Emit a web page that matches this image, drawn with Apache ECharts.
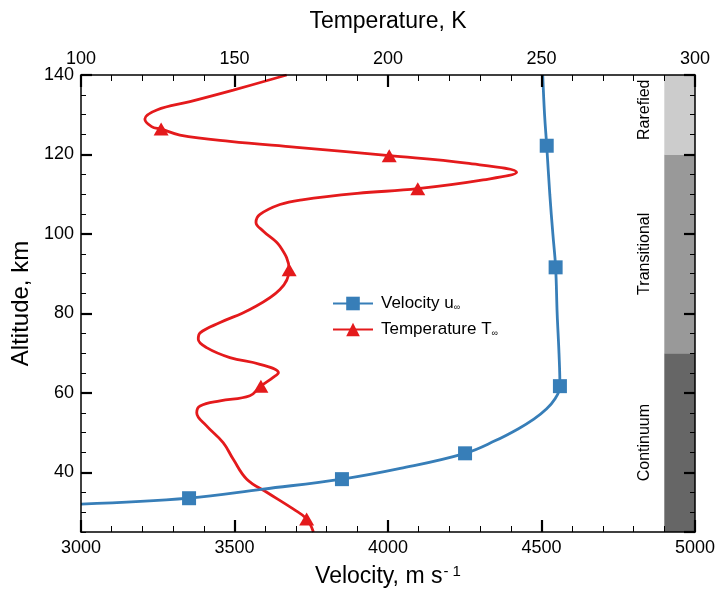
<!DOCTYPE html>
<html><head><meta charset="utf-8">
<script src="https://cdn.jsdelivr.net/npm/echarts@6/dist/echarts.min.js"></script>
<style>html,body{margin:0;padding:0;background:#fff}#c{width:725px;height:591px}</style>
</head><body><div id="c"></div>
<script>
// ---- data ----
const velocityAltitude = [32.0, 33.5, 35.8, 38.3, 41.0, 44.8, 48.0, 51.0, 53.4, 55.9, 58.4, 61.7, 70, 80, 91.6, 100, 110, 122.2, 130, 140];
const velocityValue    = [3000, 3352, 3593, 3850, 4040, 4251, 4350, 4425, 4475, 4515, 4543, 4560, 4557, 4551, 4546, 4537, 4527, 4517, 4510, 4504];
const velocityMarked   = [0, 1, 0, 1, 0, 1, 0, 0, 0, 0, 0, 1, 0, 0, 1, 0, 0, 1, 0, 0];

const temperatureAltitude = [140, 136.2, 133.3, 131.2, 128.9, 127.0, 126.4, 124.9, 123.3, 121.8, 119.7, 117.8, 115.5, 113.6, 111.4, 110.2, 108.6, 107.4, 104.9, 102.9, 100.7, 96.9, 91.0, 86.0, 81.0, 77.7, 75.1, 73.5, 71.4, 68.9, 67.2, 65.1, 63.9, 61.7, 59.3, 58.0, 56.7, 55.0, 51.7, 47.5, 43.3, 38.3, 35.0, 30.8, 28.3, 25];
const temperatureValue    = [167.0, 149.6, 135.5, 124.7, 120.8, 123.0, 126.1, 132.2, 148.5, 170.3, 200.4, 225.6, 241.9, 231.0, 209.7, 190.0, 172.0, 164.8, 158.3, 157.0, 159.4, 164.8, 167.8, 164.8, 155.0, 145.3, 138.8, 138.2, 140.9, 148.5, 158.3, 164.3, 162.6, 158.6, 155.0, 145.3, 138.8, 137.7, 140.9, 146.3, 149.6, 154.0, 160.5, 169.1, 173.5, 175.7];
const temperatureMarked   = [0, 0, 0, 0, 0, 0, 1, 0, 0, 0, 1, 0, 0, 0, 1, 0, 0, 0, 0, 0, 0, 0, 1, 0, 0, 0, 0, 0, 0, 0, 0, 0, 0, 1, 0, 0, 0, 0, 0, 0, 0, 0, 0, 0, 1, 0];

const regionNames   = ['Continuum', 'Transitional', 'Rarefied'];
const regionBottom  = [25, 70, 120];
const regionTop     = [70, 120, 140];
const regionVelFrom = [4900, 4900, 4900];
const regionVelTo   = [5000, 5000, 5000];
const regionColors  = ['#666666', '#999999', '#cccccc'];

const velocityTicks = {min: 3000, max: 5000, interval: 500};
const temperatureTicks = {min: 100, max: 300, interval: 50};
const altitudeRange = {min: 25, max: 140};

// ---- chart ----
const FONT = '"Liberation Sans", Arial, sans-serif';
const chart = echarts.init(document.getElementById('c'), null, {renderer: 'canvas'});
const plain = v => String(v);

function xAxisBase(extra) {
  return Object.assign({
    type: 'value',
    axisLine: {show: true, onZero: false, lineStyle: {color: '#000', width: 1.5}},
    axisTick: {show: true, inside: true, length: 12, lineStyle: {color: '#000', width: 2.2}},
    minorTick: {show: true, splitNumber: 5, length: 6, lineStyle: {color: '#000', width: 1}},
    splitLine: {show: false},
    axisLabel: {color: '#000', fontSize: 18, fontFamily: FONT, margin: 7, formatter: plain},
    nameLocation: 'middle',
    z: 5
  }, extra);
}
function yAxisBase(extra) {
  return Object.assign({
    type: 'value',
    min: altitudeRange.min, max: altitudeRange.max,
    axisLine: {show: true, onZero: false, lineStyle: {color: '#000', width: 1.5}},
    axisTick: {show: true, inside: true, length: 11, lineStyle: {color: '#000', width: 2.2}},
    splitLine: {show: false},
    axisLabel: {show: false},
    z: 5
  }, extra);
}

const velocityData = velocityAltitude.map((h, i) => ({
  value: [velocityValue[i], h],
  symbol: velocityMarked[i] ? 'rect' : 'none'
}));
const temperatureData = temperatureAltitude.map((h, i) => ({
  value: [temperatureValue[i], h],
  symbol: temperatureMarked[i] ? 'triangle' : 'none'
}));
const regionData = regionNames.map((n, i) => [regionVelFrom[i], regionVelTo[i], regionBottom[i], regionTop[i]]);

chart.setOption({
  animation: false,
  backgroundColor: '#fff',
  grid: {left: 81, right: 30, top: 75, bottom: 59, containLabel: false, outerBoundsMode: 'none'},
  xAxis: [
    xAxisBase({
      position: 'bottom', min: velocityTicks.min, max: velocityTicks.max, interval: velocityTicks.interval,
      name: '{a|Velocity, m s}{b|- 1}', nameGap: 32,
      nameTextStyle: {color: '#000', fontFamily: FONT,
        rich: {a: {fontSize: 23, fontFamily: FONT, color: '#000'},
               b: {fontSize: 15, fontFamily: FONT, color: '#000', verticalAlign: 'top', padding: [0, 0, 10, 1]}}}
    }),
    xAxisBase({
      position: 'top', min: temperatureTicks.min, max: temperatureTicks.max, interval: temperatureTicks.interval,
      name: 'Temperature, K', nameGap: 42,
      nameTextStyle: {color: '#000', fontSize: 23, fontFamily: FONT}
    })
  ],
  yAxis: [
    yAxisBase({
      position: 'left', splitNumber: 5,
      axisLabel: {show: true, showMinLabel: false, color: '#000', fontSize: 18, fontFamily: FONT, margin: 7, formatter: plain},
      name: 'Altitude, km', nameLocation: 'middle', nameGap: 40, nameRotate: 90,
      nameTextStyle: {color: '#000', fontSize: 24, fontFamily: FONT}
    }),
    yAxisBase({position: 'left', interval: 5, axisLine: {show: false}, axisTick: {show: true, inside: true, length: 5, lineStyle: {color: '#000', width: 1}}}),
    yAxisBase({position: 'right', splitNumber: 5}),
    yAxisBase({position: 'right', interval: 5, axisLine: {show: false}, axisTick: {show: true, inside: true, length: 5, lineStyle: {color: '#000', width: 1}}})
  ],
  legend: {
    data: ['Velocity', 'Temperature'],
    orient: 'vertical', left: 327, top: 290,
    itemWidth: 40, itemHeight: 17, itemGap: 9,
    formatter: name => name === 'Velocity' ? 'Velocity u{s|∞}' : 'Temperature T{s|∞}',
    textStyle: {color: '#000', fontSize: 17, fontFamily: FONT, padding: [0, 0, 0, 3],
      rich: {s: {fontSize: 9, fontFamily: FONT, color: '#000', verticalAlign: 'bottom', padding: [8, 0, 0, 0]}}}
  },
  series: [
    {
      type: 'custom', name: 'regions', xAxisIndex: 0, yAxisIndex: 0, silent: true, z: 1,
      data: regionData,
      renderItem: function (params, api) {
        const i = params.dataIndex;
        const p0 = api.coord([api.value(0), api.value(3)]);
        const p1 = api.coord([api.value(1), api.value(2)]);
        return {type: 'group', children: [
          {type: 'rect', shape: {x: p0[0], y: p0[1], width: p1[0] - p0[0], height: p1[1] - p0[1]},
           style: {fill: regionColors[i], stroke: null}},
          {type: 'text', x: p0[0] - 20, y: (p0[1] + p1[1]) / 2 - (i === 2 ? 5 : 0), rotation: Math.PI / 2,
           style: {text: regionNames[i], fill: '#000', fontSize: 16, fontFamily: FONT, align: 'center', verticalAlign: 'middle'}}
        ]};
      }
    },
    {
      type: 'line', name: 'Temperature', xAxisIndex: 1, yAxisIndex: 0, z: 3,
      data: temperatureData, smooth: 0.4,
      symbol: 'triangle', symbolSize: [15, 13], showSymbol: true, showAllSymbol: true,
      lineStyle: {color: '#e41a1c', width: 2.8},
      itemStyle: {color: '#e41a1c'},
      emphasis: {disabled: true}
    },
    {
      type: 'line', name: 'Velocity', xAxisIndex: 0, yAxisIndex: 0, z: 4,
      data: velocityData, smooth: 0.4,
      symbol: 'rect', symbolSize: 14, showSymbol: true, showAllSymbol: true,
      lineStyle: {color: '#377eb8', width: 2.8},
      itemStyle: {color: '#377eb8'},
      emphasis: {disabled: true}
    }
  ]
});
</script></body></html>
